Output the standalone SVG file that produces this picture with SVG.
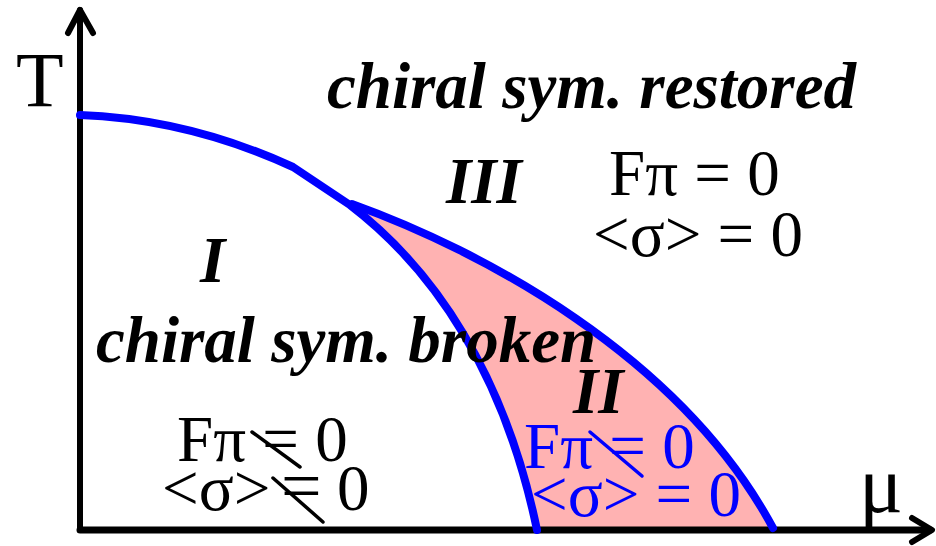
<svg xmlns="http://www.w3.org/2000/svg" width="936" height="546" viewBox="0 0 936 546">
<style>
.ax{stroke:#000;stroke-width:6;fill:none;stroke-linecap:round;stroke-linejoin:round}
.bc{stroke:#0000FF;stroke-width:8;fill:none;stroke-linecap:round;stroke-linejoin:round}
.t{font-family:"Liberation Serif","Times New Roman",serif;font-size:65px;fill:#000}
.bi{font-weight:bold;font-style:italic}
.blue{fill:#0000FF}
.sl{stroke-width:3.5;stroke-linecap:round}
</style>
<rect width="936" height="546" fill="#fff"/>
<g id="region-II-fill">
<path d="M350,205 C435,270 505,375 537,530 L773,530 C680,355 480,250 352,204 Z" fill="#FFB2B2"/>
</g>
<g id="axes">
<line class="ax" x1="80" y1="530" x2="80" y2="10"/>
<polyline class="ax" points="68,33 80,10 93,33"/>
<line class="ax" x1="80" y1="530" x2="930" y2="530" style="stroke-width:7"/>
<polyline class="ax" points="912,518 932,530 912,542"/>
</g>
<g id="connectors">
<path class="bc" d="M80,115 C160,118 230,138 293,167 L350,205 C435,270 505,375 537,530"/>
<path class="bc" d="M352,204 C480,250 680,355 773,528"/>
</g>
<g id="labels">
<text class="t" x="16" y="106" style="font-size:78px">T</text>
<text class="t" x="859" y="512" style="font-size:82px">μ</text>
<text class="t bi" x="327" y="108">chiral sym. restored</text>
<text class="t bi" x="446" y="203">III</text>
<text class="t" x="609" y="195">Fπ = 0</text>
<text class="t" x="593" y="256">&lt;σ&gt; = 0</text>
<text class="t bi" x="200" y="282">I</text>
<text class="t bi" x="96" y="362">chiral sym. broken</text>
<text class="t bi" x="573" y="413">II</text>
</g>
<g id="region-I-values">
<text class="t" x="177" y="461">Fπ = 0</text>
<line class="sl" x1="252" y1="432" x2="300" y2="467" stroke="#000"/>
<text class="t" x="162" y="510">&lt;σ&gt;<tspan x="281" style="font-size:72px">=</tspan><tspan x="337">0</tspan></text>
<line class="sl" x1="273" y1="478" x2="323" y2="522" stroke="#000"/>
</g>
<g id="region-II-values">
<text class="t blue" x="524" y="468">Fπ = 0</text>
<line class="sl" x1="590" y1="432" x2="642" y2="476" stroke="#0000FF"/>
<text class="t blue" x="531" y="516">&lt;σ&gt; = 0</text>
</g>
</svg>
